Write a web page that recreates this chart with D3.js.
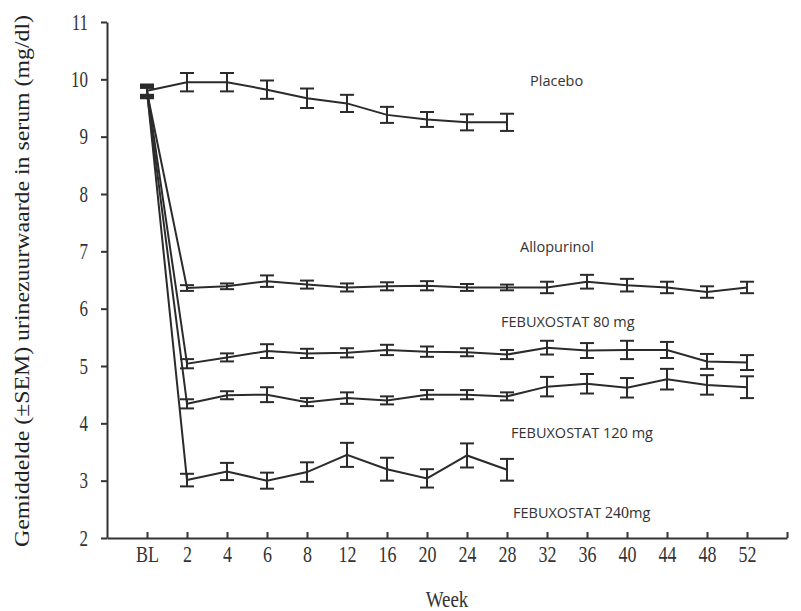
<!DOCTYPE html>
<html>
<head>
<meta charset="utf-8">
<script src="https://cdn.jsdelivr.net/npm/d3@7"></script>
<style>
  body { margin: 0; background: #fff; }
  .axis text { font-family: "Liberation Serif", serif; fill: #333; }
  .axis path, .axis line { stroke: #333; stroke-width: 2; }
  .series-label { font-family: "Open Sans", sans-serif; font-size: 14.5px; fill: #333; }
</style>
</head>
<body>
<div id="chart-area"></div>
<script>
var weeks = ["BL", "2", "4", "6", "8", "12", "16", "20", "24", "28", "32", "36", "40", "44", "48", "52"];

var placebo    = [9.80, 9.95, 9.95, 9.82, 9.67, 9.58, 9.38, 9.30, 9.25, 9.25, null, null, null, null, null, null];
var placeboErr = [0.09, 0.16, 0.16, 0.16, 0.17, 0.15, 0.14, 0.13, 0.14, 0.15, null, null, null, null, null, null];

var allopurinol    = [9.78, 6.36, 6.39, 6.48, 6.42, 6.37, 6.39, 6.40, 6.37, 6.37, 6.37, 6.47, 6.41, 6.37, 6.29, 6.37];
var allopurinolErr = [0.09, 0.05, 0.05, 0.10, 0.07, 0.07, 0.07, 0.08, 0.06, 0.05, 0.10, 0.12, 0.11, 0.10, 0.10, 0.10];

var febux80    = [9.82, 5.04, 5.15, 5.26, 5.22, 5.23, 5.28, 5.25, 5.24, 5.20, 5.32, 5.27, 5.28, 5.28, 5.08, 5.06];
var febux80Err = [0.09, 0.08, 0.07, 0.12, 0.08, 0.08, 0.09, 0.09, 0.07, 0.08, 0.12, 0.13, 0.16, 0.14, 0.13, 0.13];

var febux120    = [9.76, 4.34, 4.49, 4.50, 4.37, 4.44, 4.40, 4.50, 4.50, 4.47, 4.64, 4.69, 4.62, 4.77, 4.67, 4.63];
var febux120Err = [0.09, 0.08, 0.07, 0.13, 0.07, 0.10, 0.07, 0.08, 0.08, 0.07, 0.17, 0.17, 0.17, 0.18, 0.17, 0.19];

var febux240    = [9.80, 3.01, 3.16, 3.00, 3.15, 3.45, 3.20, 3.04, 3.44, 3.19, null, null, null, null, null, null];
var febux240Err = [0.09, 0.11, 0.15, 0.14, 0.17, 0.21, 0.20, 0.16, 0.21, 0.19, null, null, null, null, null, null];

var yTicks = [2, 3, 4, 5, 6, 7, 8, 9, 10, 11];

var series = [
  { values: placebo, err: placeboErr },
  { values: allopurinol, err: allopurinolErr },
  { values: febux80, err: febux80Err },
  { values: febux120, err: febux120Err },
  { values: febux240, err: febux240Err }
];

var width = 801, height = 611;
var margin = { top: 22, right: 14, bottom: 73, left: 107 };
var innerW = width - margin.left - margin.right;
var innerH = height - margin.top - margin.bottom;

var svg = d3.select("#chart-area")
  .append("svg")
  .attr("width", width)
  .attr("height", height);

var g = svg.append("g")
  .attr("transform", "translate(" + margin.left + "," + margin.top + ")");

// first and last slots are empty padding on the week axis
var x = d3.scalePoint()
  .domain(["_start"].concat(weeks, ["_end"]))
  .range([0, innerW]);

var y = d3.scaleLinear()
  .domain([2, 11])
  .range([innerH, 0]);

var xAxis = d3.axisBottom(x)
  .tickValues(weeks.concat(["_end"]))
  .tickSizeInner(-6)
  .tickSizeOuter(0)
  .tickFormat(function(d) { return d === "_end" ? "" : d; });

var yAxis = d3.axisLeft(y)
  .tickValues(yTicks)
  .tickSizeInner(6)
  .tickSizeOuter(0)
  .tickPadding(13);

var xAxisGroup = g.append("g")
  .attr("class", "axis")
  .attr("transform", "translate(0," + innerH + ")")
  .call(xAxis);

// the scanned original has tall, narrow glyphs
xAxisGroup.selectAll("text")
  .style("font-size", "18px")
  .attr("y", 0)
  .attr("dy", 0)
  .attr("transform", "translate(0,24) scale(1,1.3)");

var yAxisGroup = g.append("g")
  .attr("class", "axis")
  .call(yAxis);

yAxisGroup.selectAll("text")
  .style("font-size", "17px")
  .attr("transform", "scale(1,1.3)");

// Axis titles
svg.append("text")
  .attr("transform", "translate(447,607) scale(1,1.2)")
  .attr("text-anchor", "middle")
  .style("font-family", "Liberation Serif, serif")
  .style("font-size", "19px")
  .style("fill", "#333")
  .text("Week");

svg.append("text")
  .attr("transform", "translate(29,281) rotate(-90)")
  .attr("text-anchor", "middle")
  .attr("textLength", 532)
  .attr("lengthAdjust", "spacingAndGlyphs")
  .style("font-family", "Liberation Serif, serif")
  .style("font-size", "21px")
  .style("fill", "#222")
  .text("Gemiddelde (\u00B1SEM) urinezuurwaarde in serum (mg/dl)");

var line = d3.line()
  .defined(function(d) { return d.v != null; })
  .x(function(d) { return x(d.w); })
  .y(function(d) { return y(d.v); });

var capW = 7;

series.forEach(function(s) {
  var pts = weeks.map(function(w, i) { return { w: w, v: s.values[i], e: s.err[i] }; })
    .filter(function(d) { return d.v != null; });

  g.append("path")
    .datum(pts)
    .attr("d", line)
    .attr("fill", "none")
    .attr("stroke", "#2b2b2b")
    .attr("stroke-width", 2);

  var bars = g.append("g")
    .attr("stroke", "#2b2b2b")
    .attr("stroke-width", 2)
    .selectAll("g")
    .data(pts)
    .enter().append("g");

  bars.append("line")
    .attr("x1", function(d) { return x(d.w); })
    .attr("x2", function(d) { return x(d.w); })
    .attr("y1", function(d) { return y(d.v + d.e); })
    .attr("y2", function(d) { return y(d.v - d.e); });

  bars.append("line")
    .attr("x1", function(d) { return x(d.w) - capW; })
    .attr("x2", function(d) { return x(d.w) + capW; })
    .attr("y1", function(d) { return y(d.v + d.e); })
    .attr("y2", function(d) { return y(d.v + d.e); });

  bars.append("line")
    .attr("x1", function(d) { return x(d.w) - capW; })
    .attr("x2", function(d) { return x(d.w) + capW; })
    .attr("y1", function(d) { return y(d.v - d.e); })
    .attr("y2", function(d) { return y(d.v - d.e); });
});

// Series labels
svg.append("text").attr("class", "series-label").attr("x", 530).attr("y", 86).text("Placebo");
svg.append("text").attr("class", "series-label").attr("x", 520).attr("y", 252).text("Allopurinol");
svg.append("text").attr("class", "series-label").attr("x", 501).attr("y", 327).text("FEBUXOSTAT 80 mg");
svg.append("text").attr("class", "series-label").attr("x", 511).attr("y", 438).text("FEBUXOSTAT 120 mg");

var lbl240 = svg.append("text").attr("class", "series-label").attr("x", 513).attr("y", 518);
lbl240.append("tspan").text("FEBUXOSTAT  ");
lbl240.append("tspan").style("font-family", "Liberation Serif, serif").style("font-size", "16px").text("240");
lbl240.append("tspan").text("mg");
</script>
</body>
</html>
